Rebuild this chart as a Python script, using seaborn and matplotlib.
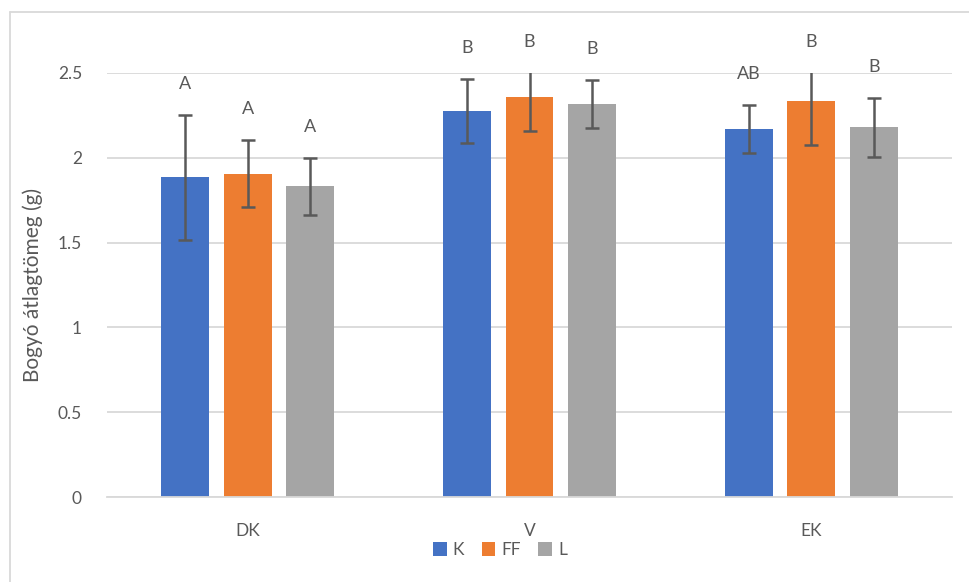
import matplotlib
matplotlib.use("Agg")
import matplotlib.pyplot as plt
from matplotlib.lines import Line2D
from matplotlib.patches import Patch
import seaborn as sns
import pandas as pd

groups = ["DK", "V", "EK"]
treatments = ["K", "FF", "L"]
means_K = [1.884, 2.276, 2.170]
means_FF = [1.905, 2.360, 2.335]
means_L = [1.831, 2.317, 2.179]
err_K = [0.369, 0.189, 0.142]
err_FF = [0.198, 0.200, 0.260]
err_L = [0.168, 0.142, 0.174]
letters_K = ["A", "B", "AB"]
letters_FF = ["A", "B", "B"]
letters_L = ["A", "B", "B"]
colors = ["#4472C4", "#ED7D31", "#A5A5A5"]
yticks = [0, 0.5, 1, 1.5, 2, 2.5]
ylabel = "Bogyó átlagtömeg (g)"

means = [means_K, means_FF, means_L]
errs = [err_K, err_FF, err_L]
letters = [letters_K, letters_FF, letters_L]

rows = []
for t, m in zip(treatments, means):
    for g, v in zip(groups, m):
        rows.append({"group": g, "treatment": t, "value": v})
df = pd.DataFrame(rows)

sns.set_theme(style="white")
plt.rcParams["font.family"] = ["Lato", "DejaVu Sans"]
text_color = "#595959"

W, H = 969, 582
fig = plt.figure(figsize=(W / 100, H / 100), dpi=100)
x0, x1, ytop, ybot = 107, 952, 73, 497
ax = fig.add_axes([x0 / W, 1 - ybot / H, (x1 - x0) / W, (ybot - ytop) / H])

sns.barplot(data=df, x="group", y="value", hue="treatment", order=groups,
            hue_order=treatments, palette=colors, width=0.666, gap=0.235,
            errorbar=None, legend=False, saturation=1, linewidth=0, ax=ax)

ymax = 2.5
for cont, e, lab in zip(ax.containers, errs, letters):
    xs = [b.get_x() + b.get_width() / 2 for b in cont]
    hs = [b.get_height() for b in cont]
    ax.errorbar(xs, hs, yerr=e, fmt="none", ecolor="#595959", elinewidth=1.8,
                capsize=5, capthick=1.8, zorder=4)
    for x, h, ee, s in zip(xs, hs, e, lab):
        y = min(h + ee, ymax) + 0.185
        ax.text(x, y, s, ha="center", va="center", fontsize=13,
                color=text_color, clip_on=False)

ax.set_xlim(-0.5, 2.5)
ax.set_ylim(0, ymax)
ax.set_yticks(yticks)
ax.set_yticklabels([f"{v:g}" for v in yticks])
ax.yaxis.grid(True, color="#d9d9d9", linewidth=1.3)
ax.set_axisbelow(True)
for s in ["top", "right", "left"]:
    ax.spines[s].set_visible(False)
ax.spines["bottom"].set_color("#d9d9d9")
ax.spines["bottom"].set_linewidth(1.3)
ax.tick_params(axis="both", length=0, labelsize=12.5, colors=text_color)
ax.tick_params(axis="y", pad=18)
ax.tick_params(axis="x", pad=19)
ax.set_xlabel("")
ax.set_ylabel("")
fig.text(33 / W, 1 - ((ytop + ybot) / 2) / H, ylabel, rotation=90, ha="center",
         va="center", fontsize=15, color=text_color)

handles = [Patch(facecolor=c, edgecolor="none") for c in colors]
fig.legend(handles, treatments, loc="center", bbox_to_anchor=(500 / W, 1 - 550 / H),
           ncol=3, frameon=False, fontsize=12.5, handlelength=0.8, handleheight=0.8,
           handletextpad=0.35, columnspacing=1.0, labelcolor=text_color,
           borderpad=0.2)

# chart frame
fig.add_artist(Line2D([9.5 / W, 9.5 / W], [0, 1 - 12 / H], color="#d9d9d9", lw=1.3,
                      transform=fig.transFigure))
fig.add_artist(Line2D([9.5 / W, 1], [1 - 12 / H, 1 - 12 / H], color="#d9d9d9", lw=1.3,
                      transform=fig.transFigure))

fig.savefig("out.png", dpi=100, facecolor="white")
